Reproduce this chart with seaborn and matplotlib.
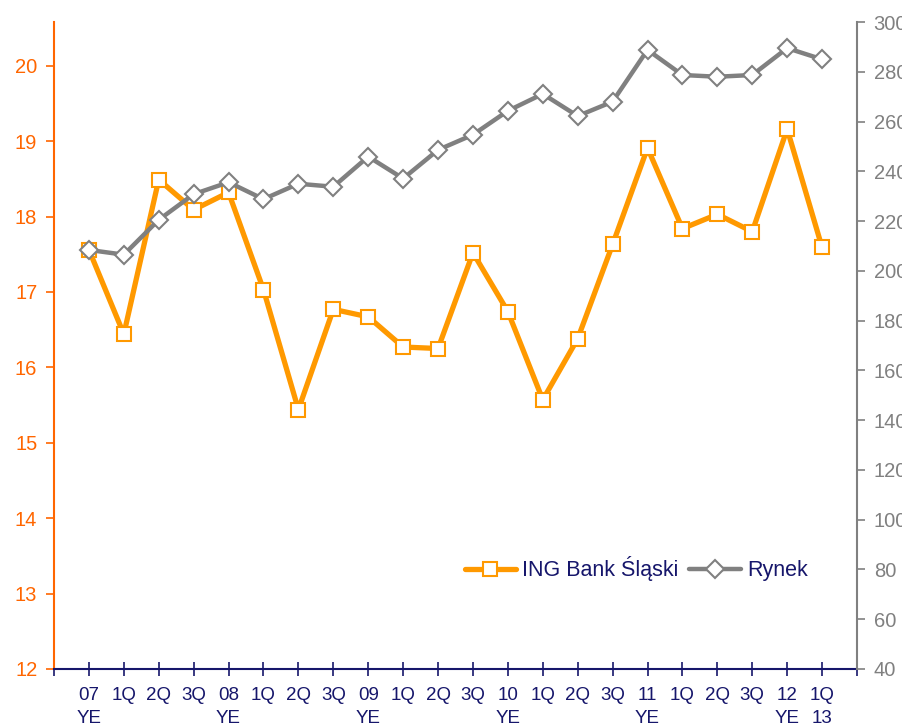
import matplotlib
matplotlib.use("Agg")
import matplotlib.pyplot as plt
import seaborn as sns
import pandas as pd
import numpy as np

sns.set_style("white")
plt.rcParams["font.family"] = ["Liberation Sans", "DejaVu Sans"]

# quarters, 2007 YE .. 1Q 2013
periods = ["07\nYE", "1Q", "2Q", "3Q", "08\nYE", "1Q", "2Q", "3Q", "09\nYE", "1Q", "2Q",
           "3Q", "10\nYE", "1Q", "2Q", "3Q", "11\nYE", "1Q", "2Q", "3Q", "12\nYE", "1Q\n13"]
ing = [17.56, 16.44, 18.49, 18.09, 18.32, 17.03, 15.44, 16.77, 16.67, 16.27, 16.25,
       17.52, 16.74, 15.57, 16.38, 17.63, 18.91, 17.84, 18.03, 17.80, 19.16, 17.59]
rynek = [208.4, 206.5, 220.5, 230.8, 235.6, 228.8, 235.0, 233.8, 245.9, 237.1, 248.6,
         254.7, 264.3, 271.1, 262.2, 268.0, 288.8, 278.7, 278.0, 278.7, 289.5, 285.0]

orange = "#FF9900"
axis_orange = "#FF6600"
grey = "#808080"
navy = "#16166B"

df = pd.DataFrame({"pos": np.arange(1, len(periods) + 1), "ing": ing, "rynek": rynek})

fig = plt.figure(figsize=(9.03, 7.27), dpi=100)
ax = fig.add_axes([54 / 903, 58 / 727, (857 - 54) / 903, (669 - 22) / 727])
ax2 = ax.twinx()

sns.lineplot(data=df, x="pos", y="ing", ax=ax, color=orange, linewidth=3.8,
             marker="s", markersize=10, markerfacecolor="white",
             markeredgecolor=orange, markeredgewidth=1.5, sort=False,
             label="ING Bank Śląski", legend=False)
sns.lineplot(data=df, x="pos", y="rynek", ax=ax2, color=grey, linewidth=3.2,
             marker="D", markersize=9, markerfacecolor="white",
             markeredgecolor=grey, markeredgewidth=1.5, sort=False,
             label="Rynek", legend=False)

ax.set_xlim(0, len(periods) + 1)
ax.set_ylim(12, 20.58)
ax2.set_ylim(40, 300)
ax.set_yticks(range(12, 21))
ax2.set_yticks(range(40, 301, 20))
ax.set_xticks(range(0, len(periods) + 2))
ax.set_xticklabels([""] + periods + [""])
for lbl in ax.get_xticklabels():
    lbl.set_linespacing(1.45)

ax.set_xlabel("")
ax.set_ylabel("")
ax2.set_ylabel("")

for a in (ax, ax2):
    a.spines["top"].set_visible(False)
    a.grid(False)
ax2.spines["left"].set_visible(False)
ax2.spines["bottom"].set_visible(False)
ax.spines["right"].set_visible(False)
ax.spines["left"].set_color(axis_orange)
ax.spines["left"].set_linewidth(1.5)
ax.spines["bottom"].set_color(navy)
ax.spines["bottom"].set_linewidth(1.5)
ax2.spines["right"].set_color(grey)
ax2.spines["right"].set_linewidth(1.5)

ax.tick_params(axis="y", colors=axis_orange, labelsize=14.5, length=6, width=1.2,
               direction="out", left=True, pad=6)
ax.tick_params(axis="x", colors=navy, labelsize=13.5, length=10, width=1.2,
               direction="inout", bottom=True, pad=8)
ax2.tick_params(axis="y", colors=grey, labelsize=14.5, length=6, width=1.2,
                direction="out", right=True, pad=6)

h1, l1 = ax.get_legend_handles_labels()
h2, l2 = ax2.get_legend_handles_labels()
leg = ax2.legend(h1 + h2, l1 + l2, loc="center", bbox_to_anchor=(0.725, 0.155),
                 ncol=2, frameon=False, fontsize=15.5, handlelength=2.4,
                 columnspacing=0.5, handletextpad=0.28)
for t in leg.get_texts():
    t.set_color(navy)

fig.savefig("out.png", dpi=100)
